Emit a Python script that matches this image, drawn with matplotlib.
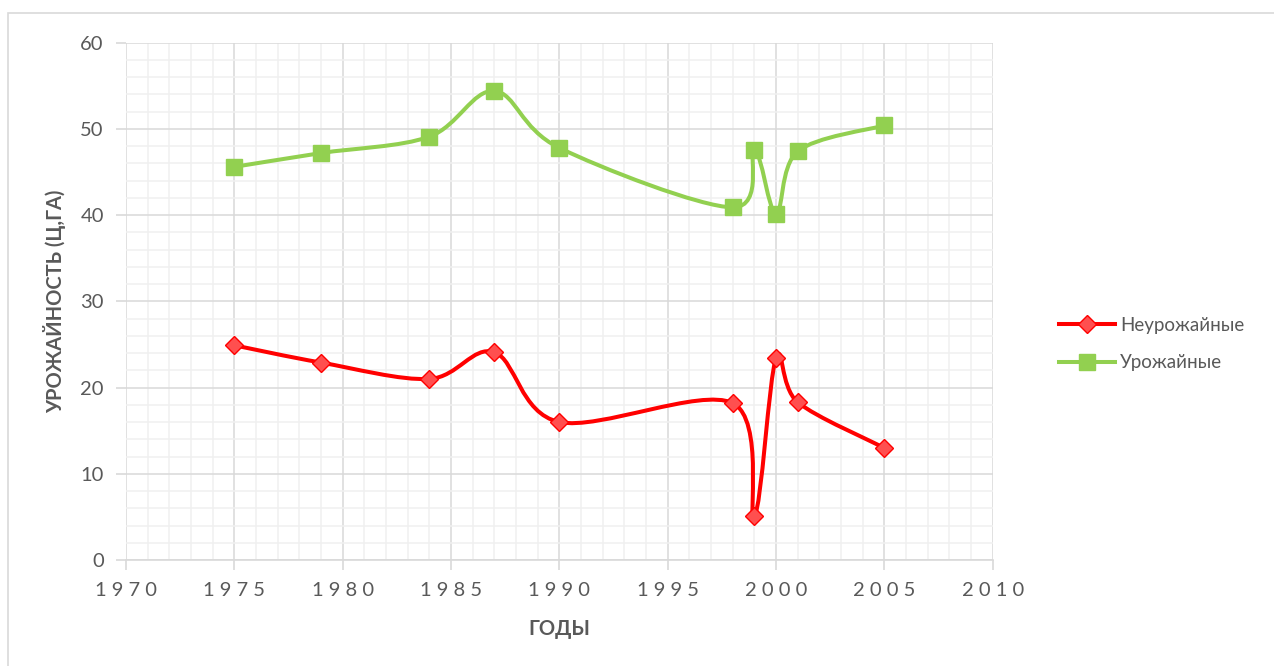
import numpy as np
import matplotlib
matplotlib.use("Agg")
import matplotlib.pyplot as plt
from matplotlib.path import Path
from matplotlib.patches import PathPatch, Rectangle
from matplotlib.lines import Line2D
from matplotlib.ticker import MultipleLocator, FuncFormatter

plt.rcParams['font.family'] = ['Lato', 'DejaVu Sans']

# data
years = [1975, 1979, 1984, 1987, 1990, 1998, 1999, 2000, 2001, 2005]
bad_yield = [24.9, 22.9, 21.0, 24.1, 16.0, 18.2, 5.1, 23.4, 18.3, 13.0]
good_yield = [45.6, 47.2, 49.1, 54.4, 47.8, 40.9, 47.6, 40.1, 47.4, 50.4]
series_names = ['Неурожайные', 'Урожайные']

x_label = 'ГОДЫ'
y_label = 'УРОЖАЙНОСТЬ (Ц,ГА)'

RED = '#FF0000'
RED_FILL = '#FF4F4F'
GREEN = '#92D050'
TXT = '#595959'


def smooth_path(x, y):
    # Excel-like smoothed line: cubic bezier through the points
    pts = np.column_stack([x, y]).astype(float)
    n = len(pts)
    verts = [pts[0]]
    codes = [Path.MOVETO]
    for i in range(n - 1):
        p0 = pts[max(i - 1, 0)]
        p1 = pts[i]
        p2 = pts[i + 1]
        p3 = pts[min(i + 2, n - 1)]
        c1 = p1 + (p2 - p0) / 6.0
        c2 = p2 - (p3 - p1) / 6.0
        verts += [c1, c2, p2]
        codes += [Path.CURVE4] * 3
    return Path(verts, codes)


fig = plt.figure(figsize=(12.74, 6.66), dpi=100)
ax = fig.add_axes([126 / 1274, 1 - 560 / 666, (992.7 - 126) / 1274, (560 - 42.7) / 666])

# outer chart border
fig.patches.append(Rectangle((8 / 1274, -0.1), 1.2, 1.1 - 13 / 666, transform=fig.transFigure,
                             fill=False, edgecolor='#D9D9D9', lw=1.2, zorder=0))

ax.set_xlim(1970, 2010)
ax.set_ylim(0, 60)
ax.xaxis.set_major_locator(MultipleLocator(5))
ax.xaxis.set_minor_locator(MultipleLocator(1))
ax.yaxis.set_major_locator(MultipleLocator(10))
ax.yaxis.set_minor_locator(MultipleLocator(2))
ax.grid(which='major', color='#D9D9D9', lw=1.1, zorder=0)
ax.grid(which='minor', color='#F0F0F0', lw=1.1, zorder=0)
ax.set_axisbelow(True)

for s in ['top', 'right', 'left']:
    ax.spines[s].set_visible(False)
ax.spines['bottom'].set_color('#D9D9D9')
ax.spines['bottom'].set_linewidth(1.2)

ax.tick_params(which='major', length=7, color='#D9D9D9', width=1.2, labelcolor=TXT, labelsize=14.5)
ax.tick_params(which='minor', length=0)
ax.tick_params(axis='x', pad=9)
ax.tick_params(axis='y', pad=9)
ax.xaxis.set_major_formatter(FuncFormatter(lambda v, p: ' '.join(str(int(v)))))

for yy, col, fill, mk, ms in [(bad_yield, RED, RED_FILL, 'D', 9.5), (good_yield, GREEN, GREEN, 's', 12)]:
    ax.add_patch(PathPatch(smooth_path(years, yy), fill=False, edgecolor=col, lw=2.9,
                           capstyle='round', joinstyle='round', zorder=3))
    ax.plot(years, yy, ls='none', marker=mk, ms=ms, mfc=fill, mec=col, mew=1, zorder=4)

ax.set_xlabel(x_label, fontsize=14.5, fontweight='bold', color=TXT, labelpad=14)
ax.set_ylabel(y_label, fontsize=14.5, fontweight='bold', color=TXT, labelpad=10)

handles = [
    Line2D([], [], color=RED, lw=2.9, marker='D', ms=9.5, mfc=RED_FILL, mec=RED),
    Line2D([], [], color=GREEN, lw=2.9, marker='s', ms=12, mfc=GREEN, mec=GREEN),
]
leg = fig.legend(handles, series_names, loc='center left', bbox_to_anchor=(1042 / 1274, 1 - 344 / 666),
                 frameon=False, fontsize=13.5, handlelength=3.0, labelspacing=1.1, handletextpad=0.25)
for t in leg.get_texts():
    t.set_color(TXT)

fig.savefig('out.png', dpi=100)
